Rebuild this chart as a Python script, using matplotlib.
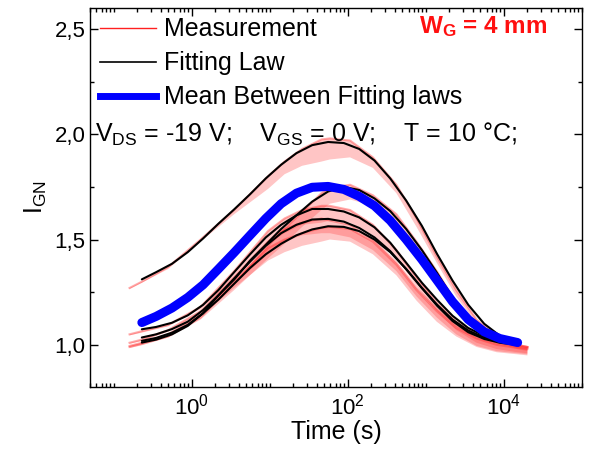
import matplotlib
matplotlib.use('Agg')
import matplotlib.pyplot as plt
import matplotlib.ticker as mticker
from matplotlib.lines import Line2D
import numpy as np

plt.rcParams['font.family'] = ['Liberation Sans', 'DejaVu Sans']
plt.rcParams['mathtext.fontset'] = 'custom'
plt.rcParams['mathtext.rm'] = 'Liberation Sans'
plt.rcParams['mathtext.it'] = 'Liberation Sans:italic'
plt.rcParams['mathtext.bf'] = 'Liberation Sans:bold'

# time grid of the fitting laws (s)
fit_time = [0.23, 0.35, 0.56, 0.89, 1.4, 2.2, 3.5, 5.6, 8.9, 14, 22, 35, 56,
            89, 140, 220, 350, 560, 890, 1400, 2200, 3500, 5600, 8900, 15000]

fit_a = [1.311, 1.345, 1.385, 1.44, 1.505, 1.575, 1.643, 1.715, 1.79, 1.855,
         1.91, 1.948, 1.963, 1.958, 1.93, 1.875, 1.79, 1.685, 1.565, 1.43,
         1.305, 1.19, 1.10, 1.043, 1.01]
fit_b = [1.011, 1.025, 1.05, 1.09, 1.15, 1.235, 1.31, 1.40, 1.475, 1.55,
         1.615, 1.68, 1.728, 1.75, 1.735, 1.695, 1.635, 1.55, 1.45, 1.34,
         1.225, 1.13, 1.065, 1.028, 1.008]
fit_c = [1.074, 1.085, 1.105, 1.14, 1.19, 1.26, 1.345, 1.43, 1.51, 1.57,
         1.615, 1.645, 1.645, 1.633, 1.605, 1.558, 1.485, 1.39, 1.295, 1.213,
         1.138, 1.08, 1.043, 1.02, 1.003]
fit_d = [1.035, 1.05, 1.075, 1.11, 1.165, 1.235, 1.315, 1.395, 1.47, 1.53,
         1.57, 1.595, 1.598, 1.585, 1.555, 1.51, 1.445, 1.36, 1.27, 1.19,
         1.12, 1.068, 1.035, 1.015, 1.002]
fit_e = [1.019, 1.033, 1.058, 1.095, 1.15, 1.215, 1.29, 1.365, 1.43, 1.48,
         1.52, 1.548, 1.563, 1.56, 1.54, 1.50, 1.44, 1.36, 1.27, 1.185,
         1.113, 1.06, 1.028, 1.01, 1.0]
fit_mean = [1.106, 1.135, 1.175, 1.225, 1.285, 1.36, 1.438, 1.52, 1.60, 1.67,
            1.72, 1.748, 1.752, 1.738, 1.705, 1.66, 1.59, 1.50, 1.405, 1.305,
            1.205, 1.12, 1.062, 1.03, 1.011]

# measurements: upper trace and lower edge of the downward spikes
meas_time = [0.16, 0.23, 0.5, 1.3, 3.5, 9.5, 15.5, 26, 46, 59, 107, 210, 420,
             760, 1380, 2450, 4470, 8100, 15000, 20000]

meas_a_top = [1.27, 1.30, 1.37, 1.50, 1.64, 1.80, 1.87, 1.93, 1.975, 1.98,
              1.97, 1.89, 1.76, 1.60, 1.42, 1.26, 1.12, 1.04, 1.0, 0.99]
meas_a_low = [1.265, 1.295, 1.36, 1.49, 1.62, 1.74, 1.81, 1.85, 1.87, 1.88,
              1.89, 1.84, 1.72, 1.56, 1.39, 1.23, 1.10, 1.02, 0.985, 0.975]
meas_b_top = [0.99, 1.005, 1.04, 1.13, 1.29, 1.47, 1.55, 1.63, 1.72, 1.745,
              1.76, 1.71, 1.62, 1.49, 1.35, 1.20, 1.09, 1.03, 1.0, 0.99]
meas_b_low = [0.985, 0.998, 1.035, 1.12, 1.26, 1.41, 1.48, 1.56, 1.64, 1.67,
              1.69, 1.66, 1.58, 1.46, 1.32, 1.18, 1.07, 1.01, 0.98, 0.97]
meas_c_top = [1.05, 1.065, 1.095, 1.18, 1.35, 1.54, 1.60, 1.64, 1.66, 1.66,
              1.64, 1.57, 1.45, 1.32, 1.20, 1.11, 1.05, 1.01, 0.995, 0.99]
meas_c_low = [1.045, 1.058, 1.088, 1.17, 1.31, 1.48, 1.53, 1.57, 1.58, 1.59,
              1.58, 1.52, 1.41, 1.28, 1.16, 1.07, 1.01, 0.98, 0.965, 0.96]
meas_d_top = [1.01, 1.025, 1.07, 1.16, 1.32, 1.49, 1.55, 1.58, 1.60, 1.59,
              1.57, 1.50, 1.39, 1.27, 1.17, 1.09, 1.035, 1.005, 0.99, 0.985]
meas_d_low = [1.005, 1.018, 1.062, 1.15, 1.29, 1.43, 1.49, 1.52, 1.53, 1.53,
              1.51, 1.45, 1.35, 1.23, 1.13, 1.05, 0.995, 0.97, 0.96, 0.955]
meas_e_top = [0.995, 1.01, 1.05, 1.145, 1.30, 1.46, 1.50, 1.53, 1.555, 1.56,
              1.55, 1.49, 1.38, 1.26, 1.16, 1.08, 1.03, 1.0, 0.985, 0.98]
meas_e_low = [0.99, 1.003, 1.043, 1.135, 1.27, 1.40, 1.44, 1.47, 1.49, 1.50,
              1.49, 1.43, 1.33, 1.21, 1.11, 1.04, 0.99, 0.965, 0.955, 0.95]

x_ticks = [1, 100, 10000]
y_ticks = [1.0, 1.5, 2.0, 2.5]

fig = plt.figure(figsize=(5.89, 4.58), dpi=100)
ax = fig.add_axes([0.153, 0.155, 0.835, 0.828])

# measurements (pink bands with downward spikes)
meas_pairs = [(meas_a_top, meas_a_low), (meas_b_top, meas_b_low),
              (meas_c_top, meas_c_low), (meas_d_top, meas_d_low),
              (meas_e_top, meas_e_low)]
for top, low in meas_pairs:
    ax.fill_between(meas_time, low, top, facecolor='#ff4040', alpha=0.3, linewidth=0)
    ax.plot(meas_time, top, color='#ff3030', alpha=0.4, lw=1.5)

# fitting laws
for fit in [fit_a, fit_b, fit_c, fit_d, fit_e]:
    ax.plot(fit_time, fit, color='black', lw=1.5, solid_capstyle='round')

ax.plot(fit_time, fit_mean, color='#0000ff', lw=6.5, solid_capstyle='round')

ax.set_xscale('log')
ax.set_xlim(0.05, 1e5)
ax.set_ylim(0.8, 2.6)

ax.xaxis.set_major_locator(mticker.FixedLocator(x_ticks))
ax.xaxis.set_minor_locator(mticker.LogLocator(base=10, subs=np.arange(1, 10), numticks=30))
ax.xaxis.set_minor_formatter(mticker.NullFormatter())
ax.yaxis.set_major_locator(mticker.FixedLocator(y_ticks))
ax.yaxis.set_minor_locator(mticker.MultipleLocator(0.25))
ax.yaxis.set_major_formatter(mticker.FuncFormatter(lambda v, p: f'{v:.1f}'.replace('.', ',')))

ax.tick_params(which='both', direction='in', top=True, right=True, labelsize=16, width=1)
ax.tick_params(which='major', length=6)
ax.tick_params(which='minor', length=3)
ax.tick_params(axis='x', which='major', pad=5)
for s in ax.spines.values():
    s.set_linewidth(1)

ax.set_xlabel('Time (s)', fontsize=18, labelpad=0)
ax.set_ylabel(r'I$_{\rm GN}$', fontsize=18, labelpad=4)

handles = [Line2D([], [], color='#ff2020', lw=1),
           Line2D([], [], color='black', lw=1.2),
           Line2D([], [], color='#0000ff', lw=5)]
labels = ['Measurement', 'Fitting Law', 'Mean Between Fitting laws']
ax.legend(handles, labels, loc='upper left', bbox_to_anchor=(-0.01, 1.014),
          frameon=False, fontsize=18, handlelength=2.25, handletextpad=0.3,
          labelspacing=0.4, borderaxespad=0.2)

ax.text(0.01, 0.647, r'V$_{\rm DS}$ = -19 V;    V$_{\rm GS}$ = 0 V;    T = 10 °C;',
        transform=ax.transAxes, fontsize=18, va='baseline')
ax.text(0.669, 0.95, r'W$_{\mathbf{G}}$ = 4 mm', transform=ax.transAxes,
        fontsize=17.5, fontweight='bold', color='#ff1010', ha='left', va='center')

fig.savefig('out.png', dpi=100)
